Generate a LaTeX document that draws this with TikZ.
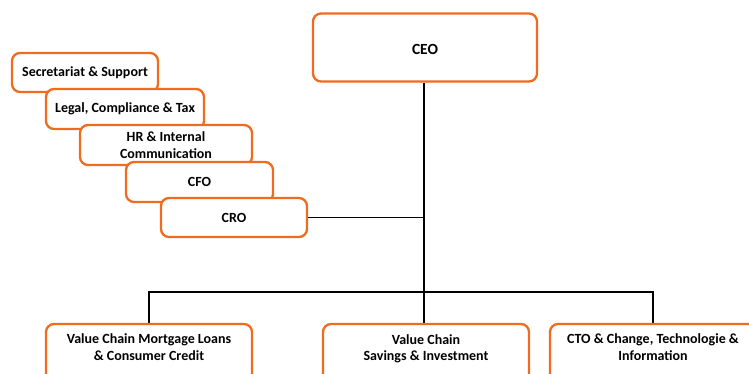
\documentclass[tikz,border=0pt]{standalone}
\usepackage{fontspec}
\setmainfont{Carlito}
\usetikzlibrary{backgrounds}
\definecolor{boxorange}{HTML}{EF6C1F}
\tikzset{
  boxfont/.style={font=\bfseries\fontsize{14}{16.5}\selectfont},
  orgbox/.style={draw=boxorange, line width=2.3pt, fill=white, rounded corners=8pt,
    inner sep=0pt, align=center, boxfont},
  boxlabel/.style={align=center, boxfont, yshift=12pt},
  conn/.style={draw=black, line width=1.2pt}
}
\begin{document}
\begin{tikzpicture}[x=1pt,y=-1pt]
\useasboundingbox (0,0) rectangle (749,374);
\clip (0,0) rectangle (749,374);
\node[orgbox, minimum width=224pt, minimum height=68pt, font=\bfseries\fontsize{15.5}{18}\selectfont,
  text height=15pt, text depth=0pt] (ceo) at (425,47.5) {CEO};
\node[orgbox, minimum width=206pt, minimum height=70pt,
  label={[name=vc1t, boxlabel]center:Value Chain Mortgage Loans\\\& Consumer Credit}] (vc1) at (149,359) {};
\node[orgbox, minimum width=206pt, minimum height=70pt,
  label={[name=vc2t, boxlabel, yshift=-1.8pt]center:Value Chain\\Savings \& Investment}] (vc2) at (426,359) {};
\node[orgbox, minimum width=206pt, minimum height=70pt,
  label={[name=vc3t, boxlabel]center:CTO \& Change, Technologie \&\\Information}] (vc3) at (653,359) {};
% left stair boxes (later ones on top)
\node[orgbox, minimum width=146pt, minimum height=39pt] (sec) at (85,72.5) {Secretariat \& Support};
\node[orgbox, minimum width=158pt, minimum height=40pt] (leg) at (125,109) {Legal, Compliance \& Tax};
\node[orgbox, minimum width=172pt, minimum height=40pt] (hr) at (166,145) {HR \& Internal\\Communication};
\node[orgbox, minimum width=147pt, minimum height=40pt] (cfo) at (199.5,182) {CFO};
\node[orgbox, minimum width=146pt, minimum height=39pt] (cro) at (234,217.5) {CRO};
\coordinate (j) at (424,292);
\coordinate (c) at (424,217.5);
\begin{pgfonlayer}{background}
\draw[conn] (j |- ceo.south) -- (j);
\draw[conn] (cro.east) -- (c);
\draw[conn] (vc1.north) |- (j) -| (vc3.north);
\draw[conn] (j) -- (j |- vc2.north);
\end{pgfonlayer}
\end{tikzpicture}
\end{document}
